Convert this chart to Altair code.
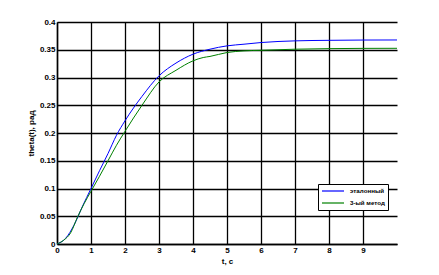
import altair as alt
import pandas as pd

t_ref = [0, 0.25, 0.5, 0.75, 1.0, 1.25, 1.5, 1.75, 2.0, 2.5, 3.0, 3.5, 4.0, 4.5, 5.0, 5.5, 6.0, 7.0, 8.0, 9.0, 10.0]
y_ref = [0, 0.01, 0.034, 0.068, 0.1, 0.132, 0.163, 0.196, 0.222, 0.266, 0.303, 0.326, 0.342, 0.351, 0.357, 0.360, 0.363, 0.366, 0.367, 0.3675, 0.3676]

t_m3 = [0, 0.2, 0.4, 0.6, 0.8, 1.0, 1.25, 1.5, 1.75, 2.0, 2.5, 3.0, 3.5, 4.0, 4.3, 4.5, 5.0, 5.5, 6.0, 7.0, 8.0, 9.0, 10.0]
y_m3 = [0, 0.007, 0.02, 0.048, 0.073, 0.095, 0.122, 0.15, 0.178, 0.203, 0.25, 0.292, 0.313, 0.330, 0.336, 0.338, 0.345, 0.348, 0.349, 0.351, 0.352, 0.3525, 0.3526]

names = ["эталонный", "3-ый метод"]
colors = ["#0000ff", "#008000"]
x_ticks = [0, 1, 2, 3, 4, 5, 6, 7, 8, 9]
y_ticks = [0, 0.05, 0.1, 0.15, 0.2, 0.25, 0.3, 0.35, 0.4]

df = pd.concat([
    pd.DataFrame({"t": t_ref, "y": y_ref, "s": names[0]}),
    pd.DataFrame({"t": t_m3, "y": y_m3, "s": names[1]}),
])

font = "Liberation Sans"

chart = alt.Chart(df).mark_line(strokeWidth=1, interpolate="monotone").encode(
    x=alt.X("t:Q", scale=alt.Scale(domain=[0, 10], nice=False),
            axis=alt.Axis(values=x_ticks, title="t, c", format="~g")),
    y=alt.Y("y:Q", scale=alt.Scale(domain=[0, 0.4], nice=False),
            axis=alt.Axis(values=y_ticks, title="theta(t), рад", format="~g")),
    color=alt.Color("s:N", scale=alt.Scale(domain=names, range=colors),
                    legend=alt.Legend(title=None, orient="none", legendX=261, legendY=162,
                                      symbolType="M-3.67,0H3.67", symbolSize=36, symbolStrokeWidth=1.2,
                                      symbolOffset=8, labelOffset=13,
                                      strokeColor="black", fillColor="white", padding=3,
                                      labelFontSize=6.2, labelFont=font, labelFontWeight="bold",
                                      labelColor="black", rowPadding=4)),
    order=alt.Order("t:Q"),
).properties(
    width=340, height=222,
    autosize=alt.AutoSizeParams(type="none"),
    padding={"left": 57, "top": 22, "right": 42, "bottom": 31},
).configure_view(stroke=None).configure_axis(
    domainColor="black", domainWidth=1.5, gridColor="black", gridWidth=1.3, gridOpacity=1,
    ticks=False, labelFont=font, labelFontSize=8, labelFontWeight="bold", labelColor="black",
    titleFont=font, titleFontSize=8, titleFontWeight="bold", titleColor="black",
    labelPadding=2,
).configure_axisX(titlePadding=3, labelFlush=False).configure_axisY(titlePadding=4, labelFlush=False)

chart.save("out.html", embed_options={"renderer": "svg", "actions": False})
